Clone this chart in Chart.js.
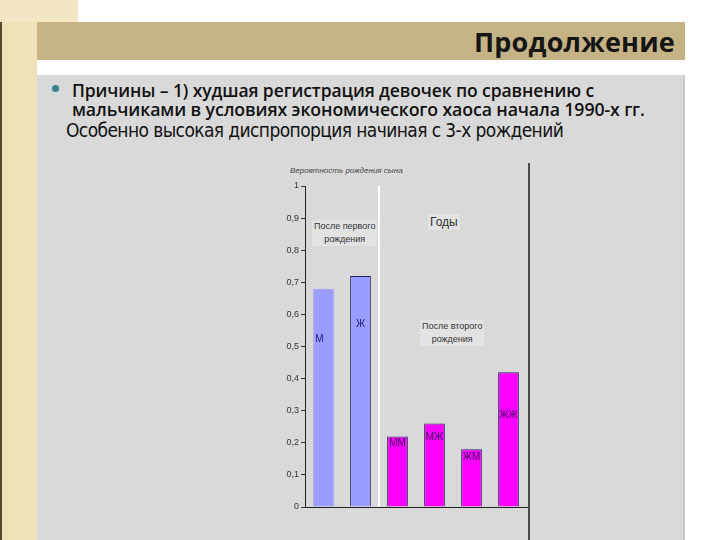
<!DOCTYPE html>
<html lang="ru">
<head>
<meta charset="utf-8">
<title>Продолжение</title>
<script src="https://cdn.jsdelivr.net/npm/chart.js@4.4.1/dist/chart.umd.min.js"></script>
<style>
  html, body { margin: 0; padding: 0; }
  body { width: 720px; height: 540px; position: relative; overflow: hidden; background: #fff;
         font-family: 'Open Sans', 'Noto Sans', sans-serif; }
  .strip { position: absolute; left: 0; top: 0; width: 37px; height: 540px; background: #f0e2b8;
           border-left: 2px solid #5a4630; box-sizing: border-box; }
  .strip-top { position: absolute; left: 0; top: 0; width: 78px; height: 22px; background: #f2e6c4; }
  .titlebar { position: absolute; left: 37px; top: 22px; width: 648px; height: 38px; background: #c6b385; }
  .titlebar h1 { position: absolute; right: 10px; top: 1px; margin: 0; font-size: 27px; font-weight: 700;
                 color: #151515; letter-spacing: 0.2px; }
  .panel { position: absolute; left: 37px; top: 75px; width: 646px; height: 465px; background: #d9d9d9;
           border-right: 2px solid #c9c9c9; }
  .bullet { position: absolute; left: 52px; top: 85px; width: 7px; height: 7px; border-radius: 50%;
            background: #3f7f95; box-shadow: 0 0 2px #9fd0dd; }
  .line { position: absolute; white-space: nowrap; color: #111; }
  .l1, .l2 { left: 72px; font-weight: 600; letter-spacing: -0.1px; }
  .l1 { top: 78px; font-size: 17.5px; }
  .l2 { top: 97px; font-size: 17.7px; }
  .l3 { left: 66px; top: 119px; font-size: 19px; font-family: 'DejaVu Sans Condensed', 'Liberation Sans', sans-serif;
        letter-spacing: -0.6px; }
  .ytitle { position: absolute; left: 290px; top: 166px; font-size: 8px; color: #444; font-style: italic;
            font-family: 'Liberation Sans', sans-serif; }
  .note { position: absolute; font-family: 'Liberation Sans', sans-serif; font-size: 9px; color: #333;
          text-align: center; line-height: 13px; background: #e2e2e2; padding: 0 2px; }
  .vline { position: absolute; left: 528px; top: 163px; width: 2px; height: 377px; background: #4a4a4a; }
  #chartBox { position: absolute; left: 260px; top: 160px; width: 275px; height: 357px; }
</style>
</head>
<body>
<div class="strip"></div>
<div class="strip-top"></div>
<div class="titlebar"><h1>Продолжение</h1></div>
<div class="panel"></div>
<div class="bullet"></div>
<div class="line l1">Причины – 1) худшая регистрация девочек по сравнению с</div>
<div class="line l2">мальчиками в условиях экономического хаоса начала 1990-х гг.</div>
<div class="line l3">Особенно высокая диспропорция начиная с 3-х рождений</div>

<div class="ytitle">Вероятность рождения сына</div>
<div class="note" style="left:312px; top:220px;">После первого<br>рождения</div>
<div class="note" style="left:428px; top:214px; font-size:12px; line-height:16px;">Годы</div>
<div class="note" style="left:420px; top:320px;">После второго<br>рождения</div>
<div class="vline"></div>

<div id="chartBox"><canvas id="chartSons"></canvas></div>

<script>
'use strict';

/* ── DATA ── */
const categories  = ['М', 'Ж', 'ММ', 'МЖ', 'ЖМ', 'ЖЖ'];
const sonShare    = [0.68, 0.72, 0.22, 0.26, 0.18, 0.42];
const yTickLabels = ['0', '0,1', '0,2', '0,3', '0,4', '0,5', '0,6', '0,7', '0,8', '0,9', '1'];

const barFill   = ['#9a9cff', '#9a9cff', '#ff00ff', '#ff00ff', '#ff00ff', '#ff00ff'];
const barBorder = ['#9a9cff', '#20205a', '#20205a', '#20205a', '#20205a', '#20205a'];

/* labels drawn inside each bar, offset in px below the bar top */
const inBarLabels = {
  id: 'inBarLabels',
  afterDatasetsDraw(chart, args, opts) {
    const { ctx } = chart;
    const meta = chart.getDatasetMeta(0);
    ctx.save();
    ctx.font = "10px 'Liberation Sans', sans-serif";
    ctx.textAlign = 'center';
    ctx.textBaseline = 'middle';
    meta.data.forEach((bar, i) => {
      ctx.fillStyle = i < 2 ? '#1c1c7a' : '#3a0a5a';
      ctx.fillText(categories[i], bar.x - (i === 0 ? 4 : 0), bar.y + opts.offsets[i]);
    });
    ctx.restore();
  },
};

/* white separator between first-birth and second-birth groups */
const groupSeparator = {
  id: 'groupSeparator',
  beforeDatasetsDraw(chart) {
    const { ctx, chartArea, scales } = chart;
    const x = (scales.x.getPixelForValue(1) + scales.x.getPixelForValue(2)) / 2;
    ctx.save();
    ctx.strokeStyle = '#ffffff';
    ctx.lineWidth = 2;
    ctx.beginPath();
    ctx.moveTo(x, chartArea.top);
    ctx.lineTo(x, chartArea.bottom);
    ctx.stroke();
    ctx.restore();
  },
};

new Chart(document.getElementById('chartSons'), {
  type: 'bar',
  data: {
    labels: categories,
    datasets: [{
      data: sonShare,
      backgroundColor: barFill,
      borderColor: barBorder,
      borderWidth: 1,
      categoryPercentage: 1,
      barPercentage: 0.56,
    }],
  },
  options: {
    responsive: true,
    maintainAspectRatio: false,
    animation: false,
    layout: { padding: { top: 26, right: 8, bottom: 0, left: 0 } },
    plugins: {
      legend: { display: false },
      tooltip: { enabled: false },
      inBarLabels: { offsets: [51, 48, 7, 14, 8, 43] },
    },
    scales: {
      x: {
        grid: { display: false },
        border: { display: true, color: '#222', width: 1 },
        ticks: { display: false },
        afterFit: s => { s.height = 10; },
      },
      y: {
        min: 0,
        max: 1,
        grid: { drawOnChartArea: false, drawTicks: true, tickLength: 4, color: '#333' },
        border: { display: true, color: '#222', width: 1 },
        ticks: {
          stepSize: 0.1,
          padding: 2,
          color: '#333',
          font: { family: "'Liberation Sans', sans-serif", size: 9 },
          callback: (v, i) => yTickLabels[i],
        },
        afterFit: s => { s.width = 45; },
      },
    },
  },
  plugins: [inBarLabels, groupSeparator],
});
</script>
</body>
</html>
